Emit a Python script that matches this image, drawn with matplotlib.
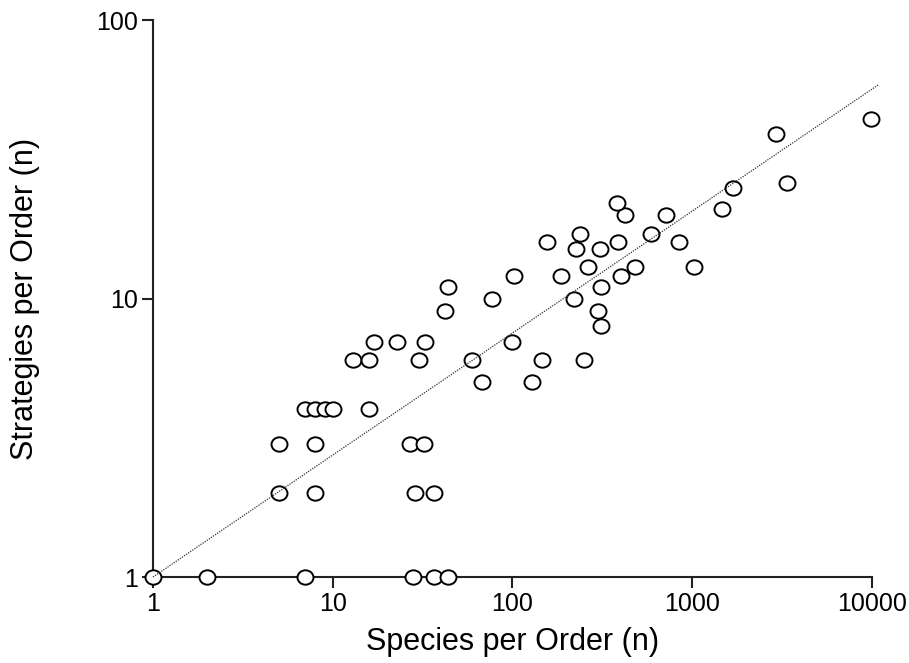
import numpy as np
import matplotlib
matplotlib.use("Agg")
import matplotlib.pyplot as plt
from matplotlib.path import Path

plt.rcParams["font.family"] = ["Liberation Sans", "DejaVu Sans"]

# species per order (x) and strategies per order (y)
species = [1, 2, 7, 28, 36.6, 43.8,
           5, 8, 28.8, 36.6,
           5, 8, 27, 32,
           7, 8, 9, 10, 16,
           68, 128,
           13, 16, 30, 59.5, 145, 250,
           17, 22.7, 32.7, 100,
           312,
           42, 299,
           77, 220,
           43.8, 312,
           102, 185, 403,
           262, 480, 1018,
           226, 308,
           156, 388, 840,
           238, 590,
           424, 711,
           1459, 380, 1692, 3380, 2924, 9840]
strategies = [1, 1, 1, 1, 1, 1,
              2, 2, 2, 2,
              3, 3, 3, 3,
              4, 4, 4, 4, 4,
              5, 5,
              6, 6, 6, 6, 6, 6,
              7, 7, 7, 7,
              8,
              9, 9,
              10, 10,
              11, 11,
              12, 12, 12,
              13, 13, 13,
              15, 15,
              16, 16, 16,
              17, 17,
              20, 20,
              21, 22, 25, 26, 39, 44]

# power-law fit through (1, 1)
fit_slope = 0.438
fit_x = [1, 10800]

# slightly flattened circle marker
circ = Path.unit_circle()
ellipse = Path(circ.vertices * np.array([1.0, 0.9]), circ.codes)

fig = plt.figure(figsize=(9.09, 6.63), dpi=100)
ax = fig.add_axes([0.1683, 0.1297, 0.791, 0.8401])

fx = np.array(fit_x, dtype=float)
ax.plot(fx, fx ** fit_slope, ls=(0, (1, 1)), color="#333333", lw=0.9,
        zorder=4, clip_on=False)
ax.plot(species, strategies, ls="none", marker=ellipse, ms=11.5,
        mfc="white", mec="black", mew=1.4, zorder=3, clip_on=False)

ax.set_xscale("log")
ax.set_yscale("log")
ax.set_xlim(1, 10000)
ax.set_ylim(1, 100)
ax.set_xticks([1, 10, 100, 1000, 10000])
ax.set_xticklabels(["1", "10", "100", "1000", "10000"])
ax.set_yticks([1, 10, 100])
ax.set_yticklabels(["1", "10", "100"])
ax.minorticks_off()

for s in ("top", "right"):
    ax.spines[s].set_visible(False)
for s in ("left", "bottom"):
    ax.spines[s].set_linewidth(1.5)
    ax.spines[s].set_color("#222222")
ax.tick_params(length=8, width=1.5, color="#222222", labelsize=18, pad=3)

ax.set_xlabel("Species per Order (n)", fontsize=22, labelpad=8)
ax.set_ylabel("Strategies per Order (n)", fontsize=22, labelpad=40)

fig.savefig("out.png", dpi=100)
